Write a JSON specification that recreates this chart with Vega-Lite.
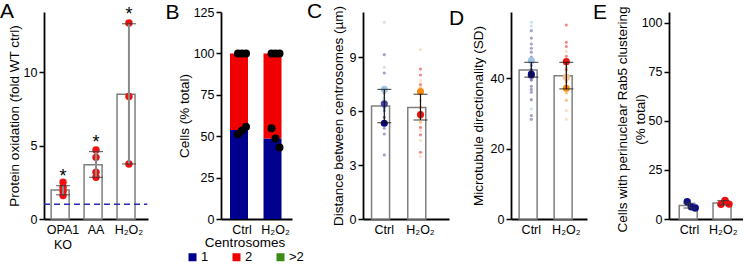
{
  "$schema": "https://vega.github.io/schema/vega-lite/v6.json",
  "padding": {"left": 0, "top": 0, "right": 0, "bottom": 0},
  "bounds": "flush",
  "spacing": 0,
  "resolve": {"scale": {"color": "independent"}, "legend": {"color": "independent"}},
  "config": {
    "view": {"stroke": null},
    "font": "Liberation Sans",
    "axis": {"domainColor": "black", "domainWidth": 1.8, "tickColor": "black", "tickWidth": 1.5, "tickSize": 5, "labelColor": "black", "labelFontSize": 12.5, "titleFontSize": 13.5, "titleFontWeight": "normal", "titleColor": "black", "grid": false, "labelFont": "Liberation Sans", "titleFont": "Liberation Sans"},
    "axisX": {"ticks": false, "labelAngle": 0, "labelPadding": 4, "title": null, "labelOverlap": false},
    "axisY": {"labelPadding": 2, "titleBaseline": "middle"},
    "title": {"fontSize": 21, "fontWeight": "normal", "anchor": "start", "frame": "group", "font": "Liberation Sans", "color": "black", "offset": -16.5}
  },
  "datasets": {
    "A_bars": [
      {"cond": "OPA1 KO", "mean": 1.98, "lo": 1.65, "hi": 2.27},
      {"cond": "AA", "mean": 3.7, "lo": 2.84, "hi": 4.59},
      {"cond": "H₂O₂", "mean": 8.5, "lo": 3.75, "hi": 13.3}
    ],
    "A_pts": [
      {"cond": "OPA1 KO", "value": 2.5}, {"cond": "OPA1 KO", "value": 2.16}, {"cond": "OPA1 KO", "value": 1.89}, {"cond": "OPA1 KO", "value": 1.6},
      {"cond": "AA", "value": 4.7}, {"cond": "AA", "value": 4.2}, {"cond": "AA", "value": 3.18}, {"cond": "AA", "value": 2.84},
      {"cond": "H₂O₂", "value": 13.35}, {"cond": "H₂O₂", "value": 8.34}, {"cond": "H₂O₂", "value": 3.75}
    ],
    "B_bars": [
      {"cond": "Ctrl", "centrosomes": "1", "pct": 53.8}, {"cond": "Ctrl", "centrosomes": "2", "pct": 46.2}, {"cond": "Ctrl", "centrosomes": ">2", "pct": 0},
      {"cond": "H₂O₂", "centrosomes": "1", "pct": 48.6}, {"cond": "H₂O₂", "centrosomes": "2", "pct": 51.4}, {"cond": "H₂O₂", "centrosomes": ">2", "pct": 0}
    ],
    "B_pts": [
      {"cond": "Ctrl", "rep": "r1", "value": 100}, {"cond": "Ctrl", "rep": "r2", "value": 100}, {"cond": "Ctrl", "rep": "r3", "value": 100},
      {"cond": "Ctrl", "rep": "r1", "value": 51.2}, {"cond": "Ctrl", "rep": "r2", "value": 53.5}, {"cond": "Ctrl", "rep": "r3", "value": 55.7},
      {"cond": "H₂O₂", "rep": "r1", "value": 100}, {"cond": "H₂O₂", "rep": "r2", "value": 100}, {"cond": "H₂O₂", "rep": "r3", "value": 100},
      {"cond": "H₂O₂", "rep": "r1", "value": 54.8}, {"cond": "H₂O₂", "rep": "r2", "value": 48.6}, {"cond": "H₂O₂", "rep": "r3", "value": 43.2}
    ],
    "C_bars": [
      {"cond": "Ctrl", "mean": 6.28, "lo": 5.35, "hi": 7.2},
      {"cond": "H₂O₂", "mean": 6.2, "lo": 5.5, "hi": 6.93}
    ],
    "C_big": [
      {"cond": "Ctrl", "rep": "c1", "value": 7.2}, {"cond": "Ctrl", "rep": "c2", "value": 6.4}, {"cond": "Ctrl", "rep": "c3", "value": 5.32},
      {"cond": "H₂O₂", "rep": "h1", "value": 5.75}, {"cond": "H₂O₂", "rep": "h2", "value": 7.08}, {"cond": "H₂O₂", "rep": "h3", "value": 5.8}
    ],
    "C_small": [
      {"cond": "Ctrl", "rep": "c1", "value": 10.93}, {"cond": "Ctrl", "rep": "c1", "value": 8.43}, {"cond": "Ctrl", "rep": "c1", "value": 6.7},
      {"cond": "Ctrl", "rep": "c2", "value": 9.13}, {"cond": "Ctrl", "rep": "c2", "value": 8.11}, {"cond": "Ctrl", "rep": "c2", "value": 7.0}, {"cond": "Ctrl", "rep": "c2", "value": 6.02}, {"cond": "Ctrl", "rep": "c2", "value": 5.04}, {"cond": "Ctrl", "rep": "c2", "value": 4.72}, {"cond": "Ctrl", "rep": "c2", "value": 3.56},
      {"cond": "Ctrl", "rep": "c3", "value": 5.65}, {"cond": "Ctrl", "rep": "c3", "value": 6.2},
      {"cond": "H₂O₂", "rep": "h1", "value": 9.41}, {"cond": "H₂O₂", "rep": "h1", "value": 7.69}, {"cond": "H₂O₂", "rep": "h1", "value": 6.58}, {"cond": "H₂O₂", "rep": "h1", "value": 4.91}, {"cond": "H₂O₂", "rep": "h1", "value": 4.36}, {"cond": "H₂O₂", "rep": "h1", "value": 3.48},
      {"cond": "H₂O₂", "rep": "h2", "value": 6.2}, {"cond": "H₂O₂", "rep": "h2", "value": 5.37}, {"cond": "H₂O₂", "rep": "h2", "value": 7.3},
      {"cond": "H₂O₂", "rep": "h3", "value": 8.33}, {"cond": "H₂O₂", "rep": "h3", "value": 8.0}, {"cond": "H₂O₂", "rep": "h3", "value": 7.47}, {"cond": "H₂O₂", "rep": "h3", "value": 5.09}, {"cond": "H₂O₂", "rep": "h3", "value": 4.67}, {"cond": "H₂O₂", "rep": "h3", "value": 3.71}
    ],
    "D_bars": [
      {"cond": "Ctrl", "mean": 42.3, "lo": 40.3, "hi": 44.5},
      {"cond": "H₂O₂", "mean": 40.7, "lo": 36.96, "hi": 44.5}
    ],
    "D_big": [
      {"cond": "Ctrl", "rep": "c1", "value": 45.0}, {"cond": "Ctrl", "rep": "c2", "value": 40.8}, {"cond": "Ctrl", "rep": "c3", "value": 41.2},
      {"cond": "H₂O₂", "rep": "h1", "value": 40.3}, {"cond": "H₂O₂", "rep": "h2", "value": 37.15}, {"cond": "H₂O₂", "rep": "h3", "value": 44.7}
    ],
    "D_small": [
      {"cond": "Ctrl", "rep": "c1", "value": 55.9}, {"cond": "Ctrl", "rep": "c1", "value": 54.8}, {"cond": "Ctrl", "rep": "c1", "value": 31.3}, {"cond": "Ctrl", "rep": "c1", "value": 44.0},
      {"cond": "Ctrl", "rep": "c2", "value": 53.5}, {"cond": "Ctrl", "rep": "c2", "value": 51.4}, {"cond": "Ctrl", "rep": "c2", "value": 49.7}, {"cond": "Ctrl", "rep": "c2", "value": 48.5}, {"cond": "Ctrl", "rep": "c2", "value": 47.4}, {"cond": "Ctrl", "rep": "c2", "value": 46.0}, {"cond": "Ctrl", "rep": "c2", "value": 43.6}, {"cond": "Ctrl", "rep": "c2", "value": 37.7}, {"cond": "Ctrl", "rep": "c2", "value": 36.8}, {"cond": "Ctrl", "rep": "c2", "value": 36.0}, {"cond": "Ctrl", "rep": "c2", "value": 33.9}, {"cond": "Ctrl", "rep": "c2", "value": 29.4}, {"cond": "Ctrl", "rep": "c2", "value": 28.3},
      {"cond": "Ctrl", "rep": "c3", "value": 39.5}, {"cond": "Ctrl", "rep": "c3", "value": 42.5},
      {"cond": "H₂O₂", "rep": "h1", "value": 47.6}, {"cond": "H₂O₂", "rep": "h1", "value": 43.1}, {"cond": "H₂O₂", "rep": "h1", "value": 41.9}, {"cond": "H₂O₂", "rep": "h1", "value": 30.8}, {"cond": "H₂O₂", "rep": "h1", "value": 28.3},
      {"cond": "H₂O₂", "rep": "h2", "value": 38.9}, {"cond": "H₂O₂", "rep": "h2", "value": 35.8}, {"cond": "H₂O₂", "rep": "h2", "value": 33.7}, {"cond": "H₂O₂", "rep": "h2", "value": 39.5},
      {"cond": "H₂O₂", "rep": "h3", "value": 55.1}, {"cond": "H₂O₂", "rep": "h3", "value": 50.2}, {"cond": "H₂O₂", "rep": "h3", "value": 49.0}, {"cond": "H₂O₂", "rep": "h3", "value": 46.2}, {"cond": "H₂O₂", "rep": "h3", "value": 42.5}
    ],
    "E_bars": [
      {"cond": "Ctrl", "mean": 6.9, "lo": 5.6, "hi": 8.0},
      {"cond": "H₂O₂", "mean": 8.1, "lo": 7.2, "hi": 9.4}
    ],
    "E_pts": [
      {"cond": "Ctrl", "rep": "r1", "value": 8.8}, {"cond": "Ctrl", "rep": "r2", "value": 6.2}, {"cond": "Ctrl", "rep": "r3", "value": 5.6},
      {"cond": "H₂O₂", "rep": "r1", "value": 7.5}, {"cond": "H₂O₂", "rep": "r2", "value": 9.4}, {"cond": "H₂O₂", "rep": "r3", "value": 7.6}
    ]
  },
  "hconcat": [
    {
      "width": 177, "height": 207,
      "title": {"text": "A", "dx": -44},
      "layer": [
        {
          "data": {"name": "A_bars"},
          "mark": {"type": "bar", "fill": "white", "stroke": "#7f7f7f", "strokeWidth": 1.5},
          "encoding": {
            "x": {"field": "cond", "type": "nominal", "sort": ["OPA1 KO", "AA", "H₂O₂"], "scale": {"range": [0, 104], "paddingInner": 0.277, "paddingOuter": 0.217, "align": 0.5}, "axis": {"labelExpr": "datum.value == 'OPA1 KO' ? ['OPA1','KO'] : datum.value", "labelLineHeight": 15}},
            "y": {"field": "mean", "type": "quantitative", "scale": {"domain": [0, 14.1], "nice": false}, "axis": {"values": [0, 5, 10], "title": "Protein oxidation (fold WT ctrl)", "titleX": -30}}
          }
        },
        {
          "data": {"name": "A_pts"},
          "mark": {"type": "circle", "color": "#ee1111", "size": 55, "opacity": 1},
          "encoding": {"x": {"field": "cond", "type": "nominal", "sort": ["OPA1 KO", "AA", "H₂O₂"]}, "y": {"field": "value", "type": "quantitative"}}
        },
        {
          "data": {"name": "A_bars"},
          "mark": {"type": "rule", "color": "#8a8a8a", "strokeWidth": 2},
          "encoding": {"x": {"field": "cond", "type": "nominal", "sort": ["OPA1 KO", "AA", "H₂O₂"]}, "y": {"field": "lo", "type": "quantitative"}, "y2": {"field": "hi"}}
        },
        {
          "data": {"name": "A_bars"},
          "mark": {"type": "tick", "color": "#333333", "size": 14, "thickness": 1.2},
          "encoding": {"x": {"field": "cond", "type": "nominal", "sort": ["OPA1 KO", "AA", "H₂O₂"]}, "y": {"field": "lo", "type": "quantitative"}}
        },
        {
          "data": {"name": "A_bars"},
          "mark": {"type": "tick", "color": "#333333", "size": 14, "thickness": 1.2},
          "encoding": {"x": {"field": "cond", "type": "nominal", "sort": ["OPA1 KO", "AA", "H₂O₂"]}, "y": {"field": "hi", "type": "quantitative"}}
        },
        {
          "data": {"name": "A_bars"},
          "mark": {"type": "text", "text": "*", "fontSize": 18, "dy": -4, "baseline": "alphabetic", "color": "black"},
          "encoding": {"x": {"field": "cond", "type": "nominal", "sort": ["OPA1 KO", "AA", "H₂O₂"]}, "y": {"field": "hi", "type": "quantitative"}}
        },
        {
          "data": {"values": [{"ref": 1}]},
          "mark": {"type": "rule", "color": "#2b2bb0", "strokeDash": [6, 4], "strokeWidth": 1.5},
          "encoding": {"y": {"field": "ref", "type": "quantitative"}, "x": {"datum": "OPA1 KO", "bandPosition": -0.3}, "x2": {"datum": "H₂O₂", "bandPosition": 1.27}}
        }
      ]
    },
    {
      "width": 142, "height": 207,
      "title": {"text": "B", "dx": -55.5},
      "layer": [
        {
          "data": {"name": "B_bars"},
          "mark": {"type": "bar"},
          "encoding": {
            "x": {"field": "cond", "type": "nominal", "sort": ["Ctrl", "H₂O₂"], "scale": {"range": [0, 71], "paddingInner": 0.284, "paddingOuter": 0.2015, "align": 0.667}},
            "y": {"field": "pct", "type": "quantitative", "stack": "zero", "scale": {"domain": [0, 125], "nice": false}, "axis": {"values": [0, 25, 50, 75, 100, 125], "title": "Cells (% total)", "titleX": -37}},
            "color": {"field": "centrosomes", "type": "nominal", "scale": {"domain": ["1", "2", ">2"], "range": ["#00008f", "#f00000", "#3d8b12"]},
              "legend": {"orient": "none", "legendX": -35, "legendY": 224, "direction": "horizontal", "columns": 3, "title": "Centrosomes", "titleAnchor": "middle", "titleOrient": "top", "symbolType": "square", "symbolSize": 64, "symbolStrokeWidth": 0, "labelFontSize": 13, "labelColor": "black", "titleFontSize": 13.5, "titleFontWeight": "normal", "titleColor": "black", "labelOffset": 2, "columnPadding": 21, "titlePadding": 1}},
            "order": {"field": "centrosomes", "sort": "ascending"}
          }
        },
        {
          "data": {"name": "B_pts"},
          "mark": {"type": "circle", "color": "black", "size": 64, "opacity": 1},
          "encoding": {
            "x": {"field": "cond", "type": "nominal", "sort": ["Ctrl", "H₂O₂"]},
            "xOffset": {"field": "rep", "type": "nominal", "scale": {"range": [8, 16], "paddingOuter": 0, "paddingInner": 0}},
            "y": {"field": "value", "type": "quantitative"}
          }
        }
      ]
    },
    {
      "width": 148, "height": 207,
      "title": {"text": "C", "dx": -56},
      "layer": [
        {
          "data": {"name": "C_bars"},
          "mark": {"type": "bar", "fill": "white", "stroke": "#7f7f7f", "strokeWidth": 1.5},
          "encoding": {
            "x": {"field": "cond", "type": "nominal", "sort": ["Ctrl", "H₂O₂"], "scale": {"range": [0, 86], "paddingInner": 0.296, "paddingOuter": 0.336, "align": 0.352}},
            "y": {"field": "mean", "type": "quantitative", "scale": {"domain": [0, 11.5], "nice": false}, "axis": {"values": [0, 3, 6, 9], "title": "Distance between centrosomes (µm)", "titleX": -25}}
          }
        },
        {
          "data": {"name": "C_small"},
          "mark": {"type": "circle", "size": 10, "opacity": 0.5},
          "encoding": {
            "x": {"field": "cond", "type": "nominal", "sort": ["Ctrl", "H₂O₂"]},
            "y": {"field": "value", "type": "quantitative"},
            "color": {"field": "rep", "type": "nominal", "scale": {"domain": ["c1", "c2", "c3", "h1", "h2", "h3"], "range": ["#a4c4e6", "#4545a5", "#0a0a80", "#f5c38e", "#f58a0c", "#ee1111"]}, "legend": null}
          }
        },
        {
          "data": {"name": "C_big"},
          "mark": {"type": "circle", "size": 50, "opacity": 1},
          "encoding": {
            "x": {"field": "cond", "type": "nominal", "sort": ["Ctrl", "H₂O₂"]},
            "y": {"field": "value", "type": "quantitative"},
            "color": {"field": "rep", "type": "nominal", "legend": null}
          }
        },
        {
          "data": {"name": "C_bars"},
          "mark": {"type": "rule", "color": "#111111", "strokeWidth": 1.2},
          "encoding": {"x": {"field": "cond", "type": "nominal", "sort": ["Ctrl", "H₂O₂"]}, "y": {"field": "lo", "type": "quantitative"}, "y2": {"field": "hi"}}
        },
        {
          "data": {"name": "C_bars"},
          "mark": {"type": "tick", "color": "#111111", "size": 14, "thickness": 1.2},
          "encoding": {"x": {"field": "cond", "type": "nominal", "sort": ["Ctrl", "H₂O₂"]}, "y": {"field": "lo", "type": "quantitative"}}
        },
        {
          "data": {"name": "C_bars"},
          "mark": {"type": "tick", "color": "#111111", "size": 14, "thickness": 1.2},
          "encoding": {"x": {"field": "cond", "type": "nominal", "sort": ["Ctrl", "H₂O₂"]}, "y": {"field": "hi", "type": "quantitative"}}
        }
      ]
    },
    {
      "width": 157.5, "height": 207,
      "title": {"text": "D", "dx": -62},
      "layer": [
        {
          "data": {"name": "D_bars"},
          "mark": {"type": "bar", "fill": "white", "stroke": "#7f7f7f", "strokeWidth": 1.5},
          "encoding": {
            "x": {"field": "cond", "type": "nominal", "sort": ["Ctrl", "H₂O₂"], "scale": {"range": [0, 76], "paddingInner": 0.303, "paddingOuter": 0.237, "align": 0.49}},
            "y": {"field": "mean", "type": "quantitative", "scale": {"domain": [0, 58.8], "nice": false}, "axis": {"values": [0, 20, 40], "title": "Microtubule directionality (SD)", "titleX": -33}}
          }
        },
        {
          "data": {"name": "D_small"},
          "mark": {"type": "circle", "size": 10, "opacity": 0.5},
          "encoding": {
            "x": {"field": "cond", "type": "nominal", "sort": ["Ctrl", "H₂O₂"]},
            "y": {"field": "value", "type": "quantitative"},
            "color": {"field": "rep", "type": "nominal", "scale": {"domain": ["c1", "c2", "c3", "h1", "h2", "h3"], "range": ["#a4c4e6", "#4545a5", "#0a0a80", "#f5c38e", "#f58a0c", "#ee1111"]}, "legend": null}
          }
        },
        {
          "data": {"name": "D_big"},
          "mark": {"type": "circle", "size": 50, "opacity": 1},
          "encoding": {
            "x": {"field": "cond", "type": "nominal", "sort": ["Ctrl", "H₂O₂"]},
            "y": {"field": "value", "type": "quantitative"},
            "color": {"field": "rep", "type": "nominal", "legend": null}
          }
        },
        {
          "data": {"name": "D_bars"},
          "mark": {"type": "rule", "color": "#111111", "strokeWidth": 1.2},
          "encoding": {"x": {"field": "cond", "type": "nominal", "sort": ["Ctrl", "H₂O₂"]}, "y": {"field": "lo", "type": "quantitative"}, "y2": {"field": "hi"}}
        },
        {
          "data": {"name": "D_bars"},
          "mark": {"type": "tick", "color": "#111111", "size": 14, "thickness": 1.2},
          "encoding": {"x": {"field": "cond", "type": "nominal", "sort": ["Ctrl", "H₂O₂"]}, "y": {"field": "lo", "type": "quantitative"}}
        },
        {
          "data": {"name": "D_bars"},
          "mark": {"type": "tick", "color": "#111111", "size": 14, "thickness": 1.2},
          "encoding": {"x": {"field": "cond", "type": "nominal", "sort": ["Ctrl", "H₂O₂"]}, "y": {"field": "hi", "type": "quantitative"}}
        }
      ]
    },
    {
      "width": 74, "height": 207,
      "title": {"text": "E", "dx": -76},
      "layer": [
        {
          "data": {"name": "E_bars"},
          "mark": {"type": "bar", "fill": "white", "stroke": "#7f7f7f", "strokeWidth": 1.5},
          "encoding": {
            "x": {"field": "cond", "type": "nominal", "sort": ["Ctrl", "H₂O₂"], "scale": {"range": [0, 74], "paddingInner": 0.393, "paddingOuter": 0.291, "align": 0.52}},
            "y": {"field": "mean", "type": "quantitative", "scale": {"domain": [0, 105.5], "nice": false}, "axis": {"values": [0, 25, 50, 75, 100], "title": ["Cells with perinuclear Rab5 clustering", "(% total)"], "titleLineHeight": 18, "titleX": -46.5, "titleY": 107}}
          }
        },
        {
          "data": {"name": "E_pts"},
          "mark": {"type": "circle", "size": 55, "opacity": 1},
          "encoding": {
            "x": {"field": "cond", "type": "nominal", "sort": ["Ctrl", "H₂O₂"]},
            "xOffset": {"field": "rep", "type": "nominal", "scale": {"range": [2, 18], "paddingOuter": 0, "paddingInner": 0}},
            "y": {"field": "value", "type": "quantitative"},
            "color": {"field": "cond", "type": "nominal", "scale": {"domain": ["Ctrl", "H₂O₂"], "range": ["#101080", "#ee1111"]}, "legend": null}
          }
        },
        {
          "data": {"name": "E_bars"},
          "mark": {"type": "rule", "color": "#333333", "strokeWidth": 1.2},
          "encoding": {"x": {"field": "cond", "type": "nominal", "sort": ["Ctrl", "H₂O₂"]}, "y": {"field": "lo", "type": "quantitative"}, "y2": {"field": "hi"}}
        },
        {
          "data": {"name": "E_bars"},
          "mark": {"type": "tick", "color": "#333333", "size": 12, "thickness": 1.2},
          "encoding": {"x": {"field": "cond", "type": "nominal", "sort": ["Ctrl", "H₂O₂"]}, "y": {"field": "lo", "type": "quantitative"}}
        },
        {
          "data": {"name": "E_bars"},
          "mark": {"type": "tick", "color": "#333333", "size": 12, "thickness": 1.2},
          "encoding": {"x": {"field": "cond", "type": "nominal", "sort": ["Ctrl", "H₂O₂"]}, "y": {"field": "hi", "type": "quantitative"}}
        }
      ]
    }
  ]
}
